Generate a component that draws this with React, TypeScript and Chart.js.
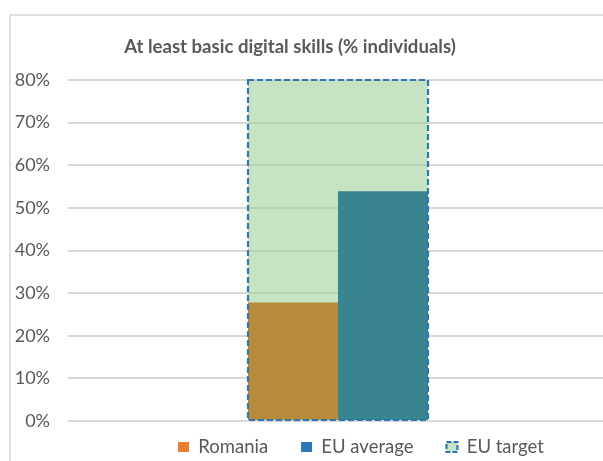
import React, { useEffect, useRef } from 'react';
import { Chart, registerables } from 'chart.js';

Chart.register(...registerables);

const categories = [''];
const romaniaValues = [27.8];
const euAverageValues = [53.9];
const euTargetValues = [80];
const seriesLabels = ['Romania', 'EU average', 'EU target'];
const yTickValues = [0, 10, 20, 30, 40, 50, 60, 70, 80];
const yTickLabels = ['0%', '10%', '20%', '30%', '40%', '50%', '60%', '70%', '80%'];
const titleText = 'At least basic digital skills (% individuals)';

const CANVAS_W = 636;
const CANVAS_H = 461;
const OFFSET_X = -28;
const FONT = 'Lato';
const LEGEND_FONT = 18.5;
const LEGEND_PAD = 33;

const framePlugin = {
  id: 'frame',
  beforeDraw(chart: any) {
    const ctx = chart.ctx;
    ctx.save();
    ctx.strokeStyle = '#d6d6d6';
    ctx.lineWidth = 1.5;
    ctx.strokeRect(10 - OFFSET_X, 15, 800, 700);
    ctx.restore();
  },
};

const targetBorderPlugin = {
  id: 'targetBorder',
  afterDatasetsDraw(chart: any) {
    const meta = chart.getDatasetMeta(2);
    if (!meta || !meta.data || !meta.data[0]) return;
    const el = meta.data[0];
    const { x, y, base, width } = el.getProps(['x', 'y', 'base', 'width'], true);
    const ctx = chart.ctx;
    ctx.save();
    ctx.strokeStyle = '#2E75B6';
    ctx.lineWidth = 2.2;
    ctx.setLineDash([6, 3]);
    ctx.strokeRect(x - width / 2, y, width, base - y);
    ctx.restore();
  },
};

const legendPlacePlugin = {
  id: 'legendPlace',
  afterLayout(chart: any) {
    const lg = chart.legend;
    if (!lg) return;
    const left = 178 - OFFSET_X - LEGEND_PAD;
    const top = 447 - LEGEND_FONT / 2 - LEGEND_PAD;
    lg.left = left;
    lg.right = CANVAS_W;
    lg.top = top;
    lg.bottom = top + 120;
    lg.width = lg.right - lg.left;
    lg.height = 120;
  },
};

const legendFill = ['#ED7D31', '#2E75B6', '#C6E5C4'];
const legendStroke = ['rgba(0,0,0,0)', 'rgba(0,0,0,0)', '#2E75B6'];
const legendLineWidth = [0, 0, 2.2];
const legendDash: number[][] = [[], [], [5, 2]];

export default function App() {
  const canvasRef = useRef<HTMLCanvasElement | null>(null);

  useEffect(() => {
    if (!canvasRef.current) return;
    const chart = new Chart(canvasRef.current, {
      type: 'bar',
      data: {
        labels: categories,
        datasets: [
          {
            label: seriesLabels[0],
            data: romaniaValues,
            backgroundColor: '#B88B3A',
            borderWidth: 0,
            categoryPercentage: 1 / 3,
            barPercentage: 1,
            order: 1,
          },
          {
            label: seriesLabels[1],
            data: euAverageValues,
            backgroundColor: '#38848F',
            borderWidth: 0,
            categoryPercentage: 1 / 3,
            barPercentage: 1,
            order: 2,
          },
          {
            label: seriesLabels[2],
            data: euTargetValues,
            backgroundColor: 'rgba(151,206,148,0.55)',
            borderWidth: 0,
            categoryPercentage: 1 / 3,
            barPercentage: 1,
            grouped: false,
            order: 3,
          } as any,
        ],
      },
      options: {
        responsive: false,
        animation: false,
        devicePixelRatio: 1,
        layout: { padding: 0 },
        scales: {
          x: {
            display: false,
            offset: true,
          },
          y: {
            min: 0,
            max: 80,
            afterBuildTicks: (s: any) => {
              s.ticks = yTickValues.map((v) => ({ value: v }));
            },
            afterFit: (s: any) => {
              s.width = 96;
            },
            border: { display: false },
            grid: {
              color: '#d9d9d9',
              lineWidth: 2,
              drawTicks: false,
            },
            ticks: {
              padding: 18,
              color: '#595959',
              font: { family: FONT, size: 18 },
              callback: (_v: any, i: number) => yTickLabels[i],
            },
          },
        },
        plugins: {
          title: {
            display: true,
            text: titleText,
            color: '#595959',
            font: { family: FONT, size: 18.6, weight: 'bold' },
            padding: { top: 35.8, bottom: 21.9 },
          },
          legend: {
            display: true,
            position: 'bottom',
            align: 'start',
            maxHeight: 40,
            labels: {
              boxWidth: 11,
              boxHeight: 10,
              padding: LEGEND_PAD,
              color: '#595959',
              font: { family: FONT, size: LEGEND_FONT },
              generateLabels: (c: any) =>
                c.data.datasets.map((ds: any, i: number) => ({
                  text: ds.label,
                  fillStyle: legendFill[i],
                  strokeStyle: legendStroke[i],
                  lineWidth: legendLineWidth[i],
                  lineDash: legendDash[i],
                  hidden: false,
                  datasetIndex: i,
                  fontColor: '#595959',
                })),
            },
          },
          tooltip: { enabled: false },
        },
      } as any,
      plugins: [framePlugin, targetBorderPlugin, legendPlacePlugin],
    });
    return () => chart.destroy();
  }, []);

  return (
    <div
      style={{
        position: 'absolute',
        left: 0,
        top: 0,
        width: 603,
        height: 461,
        overflow: 'hidden',
        background: '#ffffff',
      }}
    >
      <canvas
        ref={canvasRef}
        width={CANVAS_W}
        height={CANVAS_H}
        style={{ position: 'absolute', left: OFFSET_X, top: 0, width: CANVAS_W, height: CANVAS_H }}
      />
    </div>
  );
}
